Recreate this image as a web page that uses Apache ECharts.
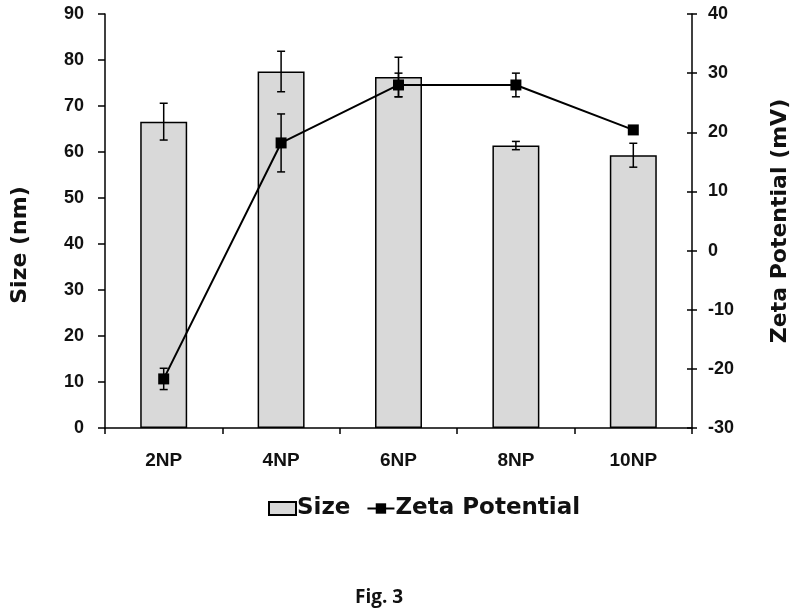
<!DOCTYPE html>
<html>
<head>
<meta charset="utf-8">
<script src="https://cdn.jsdelivr.net/npm/echarts@6/dist/echarts.min.js"></script>
<style>
  html, body { margin: 0; padding: 0; background: #fff; }
  #chart { width: 800px; height: 613px; }
</style>
</head>
<body>
<div id="chart"></div>
<script>
// data
const categories = ['2NP', '4NP', '6NP', '8NP', '10NP'];
const sizeValues = [66.6, 77.5, 76.3, 61.4, 59.3];
const sizeErrors = [4.0, 4.4, 4.3, 0.9, 2.6];
const zetaValues = [-21.7, 18.2, 28.0, 28.0, 20.4];
const zetaErrors = [1.8, 4.9, 2.0, 2.0, 0.4];

const tickFont = 'Liberation Sans';
const nameFont = 'DejaVu Sans';

function errorRows(values, errors) {
  return values.map((v, i) => [i, v, errors[i]]);
}

function renderError(params, api) {
  const i = api.value(0);
  const v = api.value(1);
  const e = api.value(2);
  const top = api.coord([i, v + e]);
  const bot = api.coord([i, v - e]);
  const cap = 4;
  const style = { stroke: '#000', lineWidth: 1.5 };
  return {
    type: 'group',
    children: [
      { type: 'line', shape: { x1: top[0], y1: top[1], x2: bot[0], y2: bot[1] }, style },
      { type: 'line', shape: { x1: top[0] - cap, y1: top[1], x2: top[0] + cap, y2: top[1] }, style },
      { type: 'line', shape: { x1: bot[0] - cap, y1: bot[1], x2: bot[0] + cap, y2: bot[1] }, style }
    ]
  };
}

const axisLabelStyle = {
  color: '#111',
  fontFamily: tickFont,
  fontWeight: 'bold',
  fontSize: 18
};

const chart = echarts.init(document.getElementById('chart'));
chart.setOption({
  animation: false,
  backgroundColor: '#fff',
  title: {
    text: 'Fig. 3',
    left: 355,
    top: 588,
    padding: 0,
    textStyle: { fontFamily: 'Open Sans', fontWeight: 'bold', fontSize: 19, color: '#111' }
  },
  legend: {
    data: [{ name: 'Size', icon: 'rect' }, 'Zeta Potential'],
    left: 268,
    top: 497,
    padding: 0,
    itemWidth: 27,
    itemHeight: 13,
    itemGap: 16,
    textStyle: { fontFamily: nameFont, fontWeight: 'bold', fontSize: 23, color: '#111', padding: [0, 0, 0, -4] }
  },
  grid: {
    left: 105,
    right: 108,
    top: 14,
    bottom: 185,
    outerBoundsMode: 'none'
  },
  xAxis: {
    type: 'category',
    data: categories,
    axisLine: { lineStyle: { color: '#000', width: 1.5 } },
    axisTick: { show: true, length: 6, lineStyle: { color: '#000', width: 1.5 } },
    axisLabel: Object.assign({}, axisLabelStyle, { margin: 23, fontSize: 19 })
  },
  yAxis: [
    {
      type: 'value',
      min: 0,
      max: 90,
      interval: 10,
      name: 'Size (nm)',
      nameLocation: 'middle',
      nameRotate: 90,
      nameGap: 74,
      nameTextStyle: { fontFamily: nameFont, fontWeight: 'bold', fontSize: 22, color: '#111', padding: [0, 48, 0, 0] },
      splitLine: { show: false },
      axisLine: { show: true, lineStyle: { color: '#000', width: 1.5 } },
      axisTick: { show: true, length: 7, lineStyle: { color: '#000', width: 1.5 } },
      axisLabel: Object.assign({ margin: 21 }, axisLabelStyle)
    },
    {
      type: 'value',
      min: -30,
      max: 40,
      interval: 10,
      position: 'right',
      name: 'Zeta Potential (mV)',
      nameLocation: 'middle',
      nameRotate: 90,
      nameGap: 77,
      nameTextStyle: { fontFamily: nameFont, fontWeight: 'bold', fontSize: 22, color: '#111' },
      splitLine: { show: false },
      axisLine: { show: true, lineStyle: { color: '#000', width: 1.5 } },
      axisTick: { show: true, length: 5, lineStyle: { color: '#000', width: 1.5 } },
      axisLabel: Object.assign({ margin: 16 }, axisLabelStyle)
    },
    {
      // inner half of the crossing ticks on the right axis
      type: 'value',
      min: -30,
      max: 40,
      interval: 10,
      position: 'right',
      splitLine: { show: false },
      axisLine: { show: false },
      axisTick: { show: true, inside: true, length: 5, lineStyle: { color: '#000', width: 1.5 } },
      axisLabel: { show: false }
    }
  ],
  series: [
    {
      name: 'Size',
      type: 'bar',
      yAxisIndex: 0,
      barWidth: '40%',
      data: sizeValues,
      itemStyle: { color: '#d9d9d9', borderColor: '#000', borderWidth: 1.5 },
      z: 2
    },
    {
      name: 'Size error',
      type: 'custom',
      yAxisIndex: 0,
      data: errorRows(sizeValues, sizeErrors),
      encode: { x: 0, y: 1 },
      renderItem: renderError,
      z: 3
    },
    {
      name: 'Zeta error',
      type: 'custom',
      yAxisIndex: 1,
      data: errorRows(zetaValues, zetaErrors),
      encode: { x: 0, y: 1 },
      renderItem: renderError,
      z: 4
    },
    {
      name: 'Zeta Potential',
      type: 'line',
      yAxisIndex: 1,
      data: zetaValues,
      symbol: 'rect',
      symbolSize: 11,
      itemStyle: { color: '#000' },
      lineStyle: { color: '#000', width: 2 },
      z: 5
    }
  ]
});
</script>
</body>
</html>
